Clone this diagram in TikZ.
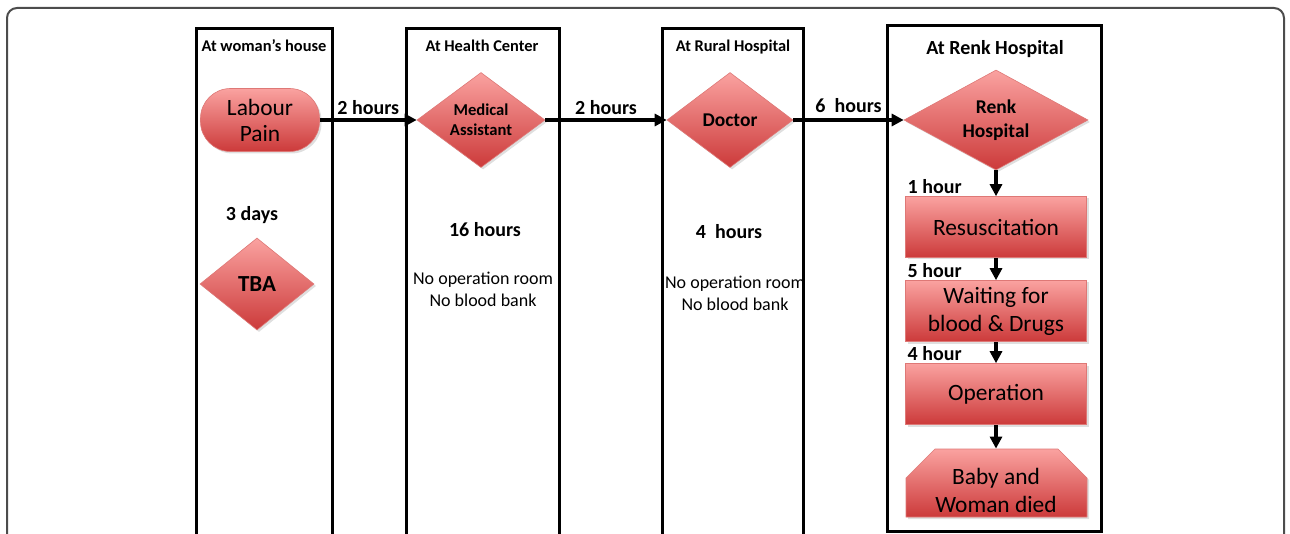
\documentclass[tikz,border=0pt]{standalone}
\usepackage{fontspec}
\setmainfont{Carlito}
\usetikzlibrary{shapes.geometric,shadows,arrows.meta}
\definecolor{boxtop}{RGB}{250,162,160}
\definecolor{boxbot}{RGB}{204,58,58}
\definecolor{boxline}{RGB}{222,120,118}

\begin{document}
\begin{tikzpicture}[x=0.5pt,y=-0.5pt,
  redfill/.style={top color=boxtop,bottom color=boxbot,draw=boxline,line width=0.3pt,
    drop shadow={opacity=0.25,shadow xshift=1pt,shadow yshift=-1pt}},
  dia/.style={redfill,diamond,inner sep=0pt,align=center,font=\bfseries\fontsize{9.75}{12}\selectfont},
  boxtext/.style={inner sep=0pt,minimum width=90.5pt,minimum height=30.5pt,
    align=center,font=\fontsize{11.7}{14}\selectfont},
  box/.style={redfill,boxtext},
  lane/.style={line width=1.5pt},
  flow/.style={line width=1.8pt,-{Stealth[length=6pt,width=6pt,inset=0pt]}},
  title/.style={font=\bfseries\fontsize{8.2}{10}\selectfont},
  time/.style={font=\bfseries\fontsize{10}{12}\selectfont},
  note/.style={align=center,font=\fontsize{9}{11}\selectfont}]
 \clip (0,0) rectangle (1290,534);
 \draw[gray!60!black,line width=1pt,rounded corners=5pt] (7,8) rectangle (1284,560);
 \draw[lane] (196,29) rectangle (332,560);
 \draw[lane] (406,29) rectangle (559,560);
 \draw[lane] (662,29) rectangle (803,560);
 \draw[lane] (887,26) rectangle (1101,531);
 \node[title] (house) at (264,46) {At woman’s house};
 \node[title] (center) at (482,46) {At Health Center};
 \node[title] (rural) at (733,47) {At Rural Hospital};
 \node[title,font=\bfseries\fontsize{10}{12}\selectfont] (renk title) at (995,49) {At Renk Hospital};

 \node[box,rounded corners=15pt,minimum width=59.5pt,minimum height=31.5pt,
   font=\fontsize{11.7}{13}\selectfont] (labour) at (260,120) {Labour\\Pain};
 \node[dia,minimum width=64pt,minimum height=47.5pt,shape aspect=1.35,
   font=\bfseries\fontsize{8.3}{10}\selectfont] (medic) at (481,120) {Medical\\Assistant};
 \node[dia,minimum width=63pt,minimum height=47.5pt,shape aspect=1.35] (doctor) at (730,120) {Doctor};
 \node[dia,minimum width=92pt,minimum height=50pt,shape aspect=1.8] (renk) at (996,120) {Renk\\Hospital};
 \node[dia,minimum width=57pt,minimum height=46pt,font=\bfseries\fontsize{11.5}{13}\selectfont] (tba) at (257,284) {TBA};

 \node[box] (resus) at (996,227) {Resuscitation};
 \node[box] (wait) at (996,311) {Waiting for\\blood \& Drugs};
 \node[box] (oper) at (996,394) {Operation};
 \path[redfill] (906,517) -- (906,478) -- (935,449) -- (1058,449) -- (1087,478) -- (1087,517) -- cycle;
 \node[boxtext,minimum height=41pt] (died) at (996,490) {Baby and\\Woman died};

 \draw[flow] (labour.east) -- node[time,above,inner sep=2pt]{2 hours} (medic.west);
 \draw[flow] (medic.east) -- node[time,above,inner sep=2pt]{2 hours} (doctor.west);
 \draw[flow] (doctor.east) -- node[time,above,inner sep=3pt]{6~ hours} (renk.west);
 \draw[flow] (renk.south) -- (resus.north);
 \draw[flow] (resus.south) -- (wait.north);
 \draw[flow] (wait.south) -- (oper.north);
 \draw[flow] (oper.south) -- (died.north);
 \node[time,anchor=south west,inner sep=1pt] (t1) at (resus.north west) {1 hour};
 \node[time,anchor=south west,inner sep=1pt] (t5) at (wait.north west) {5 hour};
 \node[time,anchor=south west,inner sep=1pt] (t4) at (oper.north west) {4 hour};

 \node[time] (days) at (252,215) {3 days};
 \node[time] (hc time) at (485,230) {16 hours};
 \node[note] (hc note) at (483,289) {No operation room\\No blood bank};
 \node[time] (rh time) at (729,232) {4~ hours};
 \node[note] (rh note) at (735,293) {No operation room\\No blood bank};
\end{tikzpicture}
\end{document}
